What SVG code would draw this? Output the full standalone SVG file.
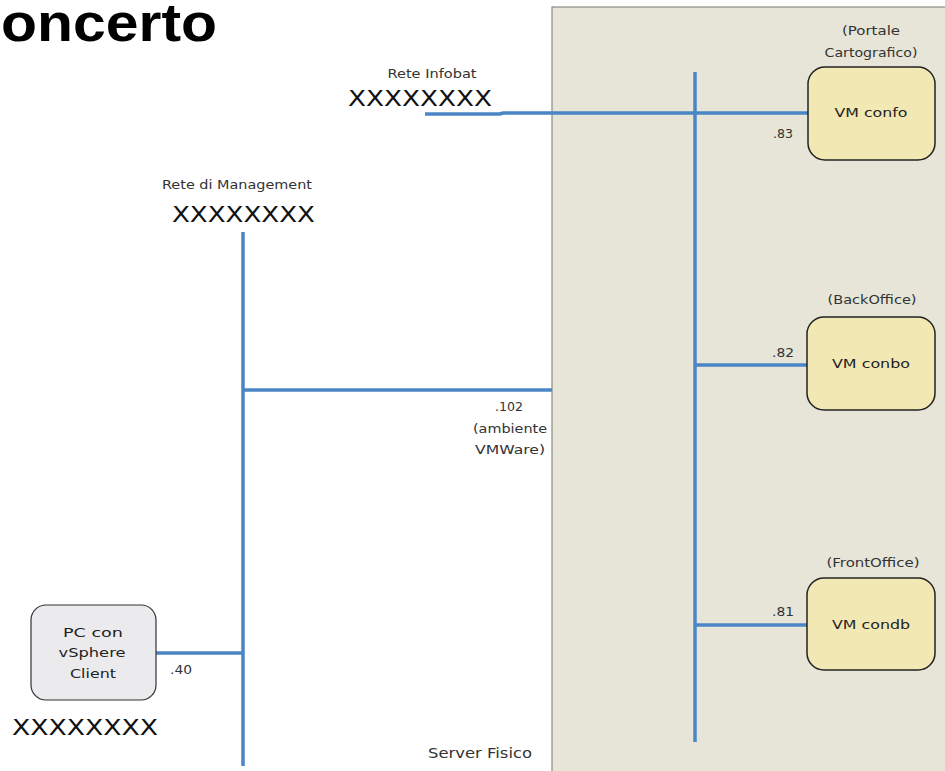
<svg xmlns="http://www.w3.org/2000/svg" width="945" height="771" viewBox="0 0 945 771">
  <style>
    .lbl { font-family: "DejaVu Sans", sans-serif; font-size: 12px; fill: #333; text-anchor: middle; }
    .node { font-family: "DejaVu Sans", sans-serif; font-size: 13px; fill: #222; text-anchor: middle; }
    .xs { font-family: "DejaVu Sans", sans-serif; font-size: 22px; fill: #111; }
    .net { stroke: #4a86c6; stroke-width: 3.5; fill: none; }
    .vm { fill: #f2e8b4; stroke: #222; stroke-width: 1.5; }
    .pc { fill: #ebebee; stroke: #333; stroke-width: 1.2; }
  </style>
  <rect width="945" height="771" fill="#ffffff"/>
  <text x="1" y="41" font-family="Liberation Sans, Arial, sans-serif" font-size="53" font-weight="bold" fill="#000" textLength="216" lengthAdjust="spacingAndGlyphs">oncerto</text>

  <!-- physical server enclosure -->
  <g id="server">
    <rect x="552" y="7" width="400" height="770" fill="#e6e5d7" stroke="#8a8a86" stroke-width="1.2"/>
    <text class="lbl" x="480" y="758" style="font-size:14px" textLength="104" lengthAdjust="spacingAndGlyphs">Server Fisico</text>
  </g>

  <!-- network links -->
  <g id="connectors">
    <line class="net" x1="695" y1="72" x2="695" y2="742"/>
    <polyline class="net" points="425,114 500,114 503,113 808,113"/>
    <line class="net" x1="695" y1="365" x2="807" y2="365"/>
    <line class="net" x1="695" y1="625" x2="807" y2="625"/>
    <line class="net" x1="243" y1="232" x2="243" y2="766"/>
    <line class="net" x1="243" y1="390" x2="552" y2="390"/>
    <line class="net" x1="156" y1="653" x2="243" y2="653"/>
  </g>

  <g id="rete-infobat">
    <text class="lbl" x="432" y="78" textLength="89" lengthAdjust="spacingAndGlyphs">Rete Infobat</text>
    <text class="xs" x="348" y="106" textLength="144" lengthAdjust="spacingAndGlyphs">XXXXXXXX</text>
  </g>

  <g id="rete-management">
    <text class="lbl" x="237" y="189" textLength="150" lengthAdjust="spacingAndGlyphs">Rete di Management</text>
    <text class="xs" x="172" y="222" textLength="143" lengthAdjust="spacingAndGlyphs">XXXXXXXX</text>
  </g>

  <g id="vmware-addr">
    <text class="lbl" x="509" y="411" textLength="28" lengthAdjust="spacingAndGlyphs">.102</text>
    <text class="lbl" x="510" y="433" textLength="74" lengthAdjust="spacingAndGlyphs">(ambiente</text>
    <text class="lbl" x="510" y="454" textLength="70" lengthAdjust="spacingAndGlyphs">VMWare)</text>
  </g>

  <g id="vm-confo">
    <text class="lbl" x="871" y="35" textLength="58" lengthAdjust="spacingAndGlyphs">(Portale</text>
    <text class="lbl" x="871" y="57" textLength="93" lengthAdjust="spacingAndGlyphs">Cartografico)</text>
    <rect class="vm" x="808" y="67" width="127" height="93" rx="17"/>
    <text class="node" x="871" y="117" textLength="73" lengthAdjust="spacingAndGlyphs">VM confo</text>
    <text class="lbl" x="783" y="138" textLength="20" lengthAdjust="spacingAndGlyphs">.83</text>
  </g>

  <g id="vm-conbo">
    <text class="lbl" x="872" y="304" textLength="89" lengthAdjust="spacingAndGlyphs">(BackOffice)</text>
    <rect class="vm" x="807" y="317" width="128" height="93" rx="17"/>
    <text class="node" x="871" y="368" textLength="78" lengthAdjust="spacingAndGlyphs">VM conbo</text>
    <text class="lbl" x="783" y="357" textLength="22" lengthAdjust="spacingAndGlyphs">.82</text>
  </g>

  <g id="vm-condb">
    <text class="lbl" x="873" y="567" textLength="93" lengthAdjust="spacingAndGlyphs">(FrontOffice)</text>
    <rect class="vm" x="807" y="578" width="128" height="92" rx="17"/>
    <text class="node" x="871" y="629" textLength="78" lengthAdjust="spacingAndGlyphs">VM condb</text>
    <text class="lbl" x="783" y="616" textLength="22" lengthAdjust="spacingAndGlyphs">.81</text>
  </g>

  <g id="pc-vsphere">
    <rect class="pc" x="31" y="605" width="125" height="95" rx="15"/>
    <text class="node" x="93" y="637" textLength="60" lengthAdjust="spacingAndGlyphs">PC con</text>
    <text class="node" x="92" y="657" textLength="67" lengthAdjust="spacingAndGlyphs">vSphere</text>
    <text class="node" x="93" y="678" textLength="46" lengthAdjust="spacingAndGlyphs">Client</text>
    <text class="lbl" x="181" y="674" textLength="22" lengthAdjust="spacingAndGlyphs">.40</text>
    <text class="xs" x="12" y="735" textLength="146" lengthAdjust="spacingAndGlyphs">XXXXXXXX</text>
  </g>
</svg>
